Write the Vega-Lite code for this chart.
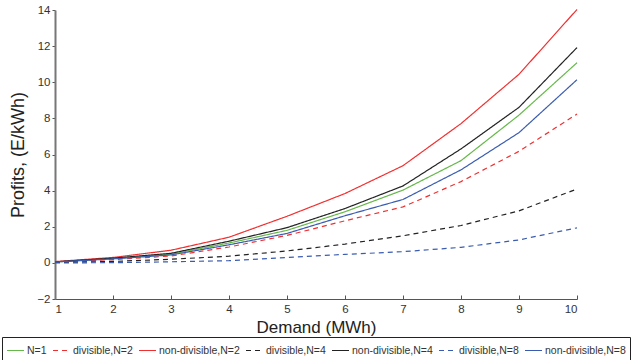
{
  "$schema": "https://vega.github.io/schema/vega-lite/v6.json",
  "autosize": {"type": "none"},
  "padding": {"left": 55, "top": 10, "right": 65, "bottom": 61},
  "width": 522,
  "height": 289,
  "background": "white",
  "config": {
    "view": {"stroke": null},
    "font": "Liberation Sans, sans-serif",
    "axis": {"grid": false, "labelColor": "#333", "titleColor": "#222", "labelFontSize": 11.5, "titleFontWeight": "normal", "titleFontSize": 17}
  },
  "data": {
    "values": [
      {"d": 1, "s": "N=1", "v": 0.05}, {"d": 2, "s": "N=1", "v": 0.24}, {"d": 3, "s": "N=1", "v": 0.48}, {"d": 4, "s": "N=1", "v": 1.1}, {"d": 5, "s": "N=1", "v": 1.8}, {"d": 6, "s": "N=1", "v": 2.83}, {"d": 7, "s": "N=1", "v": 4.03}, {"d": 8, "s": "N=1", "v": 5.66}, {"d": 9, "s": "N=1", "v": 8.18}, {"d": 10, "s": "N=1", "v": 11.08},
      {"d": 1, "s": "divisible,N=2", "v": 0.03}, {"d": 2, "s": "divisible,N=2", "v": 0.18}, {"d": 3, "s": "divisible,N=2", "v": 0.38}, {"d": 4, "s": "divisible,N=2", "v": 0.88}, {"d": 5, "s": "divisible,N=2", "v": 1.52}, {"d": 6, "s": "divisible,N=2", "v": 2.33}, {"d": 7, "s": "divisible,N=2", "v": 3.1}, {"d": 8, "s": "divisible,N=2", "v": 4.5}, {"d": 9, "s": "divisible,N=2", "v": 6.18}, {"d": 10, "s": "divisible,N=2", "v": 8.24},
      {"d": 1, "s": "non-divisible,N=2", "v": 0.07}, {"d": 2, "s": "non-divisible,N=2", "v": 0.3}, {"d": 3, "s": "non-divisible,N=2", "v": 0.7}, {"d": 4, "s": "non-divisible,N=2", "v": 1.42}, {"d": 5, "s": "non-divisible,N=2", "v": 2.58}, {"d": 6, "s": "non-divisible,N=2", "v": 3.84}, {"d": 7, "s": "non-divisible,N=2", "v": 5.38}, {"d": 8, "s": "non-divisible,N=2", "v": 7.71}, {"d": 9, "s": "non-divisible,N=2", "v": 10.44}, {"d": 10, "s": "non-divisible,N=2", "v": 14.03},
      {"d": 1, "s": "divisible,N=4", "v": 0.02}, {"d": 2, "s": "divisible,N=4", "v": 0.08}, {"d": 3, "s": "divisible,N=4", "v": 0.2}, {"d": 4, "s": "divisible,N=4", "v": 0.37}, {"d": 5, "s": "divisible,N=4", "v": 0.66}, {"d": 6, "s": "divisible,N=4", "v": 1.04}, {"d": 7, "s": "divisible,N=4", "v": 1.5}, {"d": 8, "s": "divisible,N=4", "v": 2.07}, {"d": 9, "s": "divisible,N=4", "v": 2.88}, {"d": 10, "s": "divisible,N=4", "v": 4.09},
      {"d": 1, "s": "non-divisible,N=4", "v": 0.06}, {"d": 2, "s": "non-divisible,N=4", "v": 0.26}, {"d": 3, "s": "non-divisible,N=4", "v": 0.53}, {"d": 4, "s": "non-divisible,N=4", "v": 1.2}, {"d": 5, "s": "non-divisible,N=4", "v": 1.95}, {"d": 6, "s": "non-divisible,N=4", "v": 3.01}, {"d": 7, "s": "non-divisible,N=4", "v": 4.26}, {"d": 8, "s": "non-divisible,N=4", "v": 6.31}, {"d": 9, "s": "non-divisible,N=4", "v": 8.61}, {"d": 10, "s": "non-divisible,N=4", "v": 11.92},
      {"d": 1, "s": "divisible,N=8", "v": 0.0}, {"d": 2, "s": "divisible,N=8", "v": 0.01}, {"d": 3, "s": "divisible,N=8", "v": 0.06}, {"d": 4, "s": "divisible,N=8", "v": 0.12}, {"d": 5, "s": "divisible,N=8", "v": 0.3}, {"d": 6, "s": "divisible,N=8", "v": 0.47}, {"d": 7, "s": "divisible,N=8", "v": 0.62}, {"d": 8, "s": "divisible,N=8", "v": 0.86}, {"d": 9, "s": "divisible,N=8", "v": 1.27}, {"d": 10, "s": "divisible,N=8", "v": 1.94},
      {"d": 1, "s": "non-divisible,N=8", "v": 0.05}, {"d": 2, "s": "non-divisible,N=8", "v": 0.22}, {"d": 3, "s": "non-divisible,N=8", "v": 0.44}, {"d": 4, "s": "non-divisible,N=8", "v": 1.0}, {"d": 5, "s": "non-divisible,N=8", "v": 1.63}, {"d": 6, "s": "non-divisible,N=8", "v": 2.61}, {"d": 7, "s": "non-divisible,N=8", "v": 3.51}, {"d": 8, "s": "non-divisible,N=8", "v": 5.15}, {"d": 9, "s": "non-divisible,N=8", "v": 7.21}, {"d": 10, "s": "non-divisible,N=8", "v": 10.14}
    ]
  },
  "mark": {"type": "line", "strokeWidth": 1.2},
  "encoding": {
    "x": {
      "field": "d", "type": "quantitative",
      "scale": {"domain": [1, 10], "nice": false},
      "axis": {"title": "Demand (MWh)", "values": [1,2,3,4,5,6,7,8,9,10], "tickSize": -4, "labelPadding": 8, "domainColor": "#555", "tickColor": "#555", "titlePadding": 5}
    },
    "y": {
      "field": "v", "type": "quantitative",
      "scale": {"domain": [-2, 14], "nice": false, "zero": false},
      "axis": {"title": "Profits, (E/kWh)", "titleFontSize": 18, "values": [-2,0,2,4,6,8,10,12,14], "tickSize": 3, "domainColor": "#777", "domainWidth": 2, "tickColor": "#555", "titlePadding": 9}
    },
    "color": {
      "field": "s", "type": "nominal",
      "sort": ["N=1", "divisible,N=2", "non-divisible,N=2", "divisible,N=4", "non-divisible,N=4", "divisible,N=8", "non-divisible,N=8"],
      "scale": {
        "domain": ["N=1", "divisible,N=2", "non-divisible,N=2", "divisible,N=4", "non-divisible,N=4", "divisible,N=8", "non-divisible,N=8"],
        "range": ["#66b84a", "#f03030", "#f03030", "#222222", "#222222", "#3a5cb0", "#3a5cb0"]
      },
      "legend": {
        "title": null, "orient": "none", "direction": "horizontal", "legendX": -53, "legendY": 327,
        "symbolType": "stroke", "symbolSize": 289, "symbolStrokeWidth": 1.2,
        "labelFontSize": 10.5, "labelColor": "#333", "labelOffset": 2, "columnPadding": 3, "labelLimit": 200,
        "strokeColor": "#222", "fillColor": "white", "padding": 4
      }
    },
    "strokeDash": {
      "field": "s", "type": "nominal",
      "sort": ["N=1", "divisible,N=2", "non-divisible,N=2", "divisible,N=4", "non-divisible,N=4", "divisible,N=8", "non-divisible,N=8"],
      "scale": {
        "domain": ["N=1", "divisible,N=2", "non-divisible,N=2", "divisible,N=4", "non-divisible,N=4", "divisible,N=8", "non-divisible,N=8"],
        "range": [[1,0], [5,4], [1,0], [5,4], [1,0], [5,4], [1,0]]
      },
      "legend": {
        "title": null, "orient": "none", "direction": "horizontal", "legendX": -53, "legendY": 327,
        "symbolType": "stroke", "symbolSize": 289, "symbolStrokeWidth": 1.2,
        "labelFontSize": 10.5, "labelColor": "#333", "labelOffset": 2, "columnPadding": 3, "labelLimit": 200,
        "strokeColor": "#222", "fillColor": "white", "padding": 4
      }
    }
  }
}
